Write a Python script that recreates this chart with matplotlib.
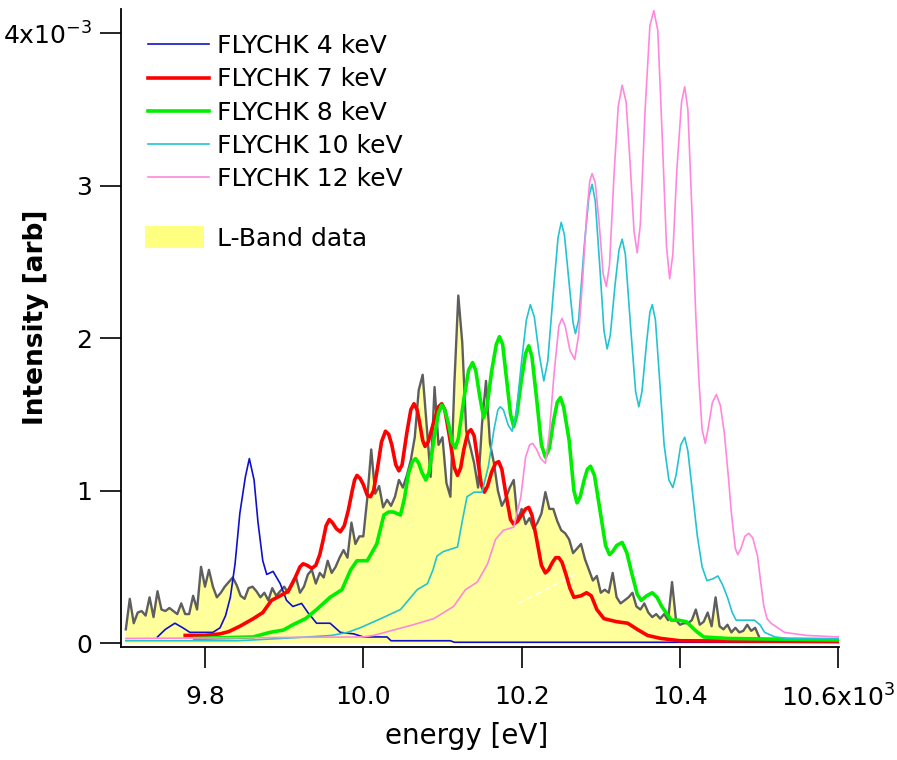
import matplotlib
matplotlib.use('Agg')
import matplotlib.pyplot as plt
from matplotlib.ticker import FixedLocator
from matplotlib.patches import Patch
from matplotlib.lines import Line2D
import numpy as np

# ---------------- data (energy in keV, intensity in 1e-3 arb) ----------------
lband_E0, lband_dE = 9.700, 0.005
lband_I = [
    0.09, 0.29, 0.13, 0.20, 0.21, 0.18, 0.30, 0.17, 0.34, 0.22,   # 9.700-9.745
    0.21, 0.23, 0.21, 0.19, 0.26, 0.19, 0.19, 0.31, 0.22, 0.50,   # 9.750-9.795
    0.37, 0.48, 0.37, 0.30, 0.33, 0.37, 0.40, 0.43, 0.38, 0.31,   # 9.800-9.845
    0.29, 0.36, 0.37, 0.34, 0.30, 0.33, 0.28, 0.36, 0.31, 0.34,   # 9.850-9.895
    0.37, 0.33, 0.38, 0.43, 0.33, 0.37, 0.45, 0.48, 0.39, 0.46,   # 9.900-9.945
    0.43, 0.54, 0.46, 0.50, 0.56, 0.61, 0.56, 0.79, 0.65, 0.70,   # 9.950-9.995
    0.70, 0.95, 1.27, 0.98, 1.03, 0.89, 0.94, 0.90, 0.96, 1.07,   # 10.000-10.045
    1.02, 1.10, 1.20, 1.35, 1.66, 1.76, 1.43, 1.09, 1.68, 1.30,   # 10.050-10.095
    1.35, 1.05, 0.96, 1.70, 2.28, 1.97, 1.39, 1.29, 1.18, 1.02,   # 10.100-10.145
    1.44, 1.72, 1.31, 1.18, 1.00, 0.90, 0.95, 1.02, 1.07, 0.80,   # 10.150-10.195
    0.88, 0.78, 0.82, 0.75, 0.79, 0.85, 0.99, 0.88, 0.88, 0.80,   # 10.200-10.245
    0.74, 0.72, 0.68, 0.59, 0.62, 0.65, 0.55, 0.48, 0.41, 0.44,   # 10.250-10.295
    0.33, 0.35, 0.33, 0.46, 0.30, 0.26, 0.28, 0.30, 0.33, 0.24,   # 10.300-10.345
    0.22, 0.26, 0.20, 0.17, 0.19, 0.16, 0.19, 0.15, 0.40, 0.15,   # 10.350-10.395
    0.12, 0.13, 0.13, 0.15, 0.22, 0.12, 0.14, 0.20, 0.11, 0.30,   # 10.400-10.445
    0.11, 0.09, 0.12, 0.07, 0.10, 0.07, 0.08, 0.12, 0.08, 0.10,   # 10.450-10.495
    0.04,                                                         # 10.500
]

k4_E = [9.740, 9.750, 9.762, 9.772, 9.781, 9.810, 9.819, 9.826, 9.832, 9.838,
        9.844, 9.851, 9.856, 9.862, 9.867, 9.873, 9.878, 9.886, 9.895, 9.903,
        9.911, 9.922, 9.930, 9.941, 9.958, 9.971, 9.988, 10.000, 10.030, 10.035,
        10.110, 10.115, 10.600]
k4_I = [0.04, 0.09, 0.13, 0.10, 0.07, 0.07, 0.10, 0.18, 0.30, 0.52,
        0.85, 1.09, 1.21, 1.07, 0.79, 0.54, 0.45, 0.47, 0.39, 0.28,
        0.24, 0.26, 0.20, 0.13, 0.13, 0.07, 0.06, 0.04, 0.04, 0.015,
        0.015, 0.005, 0.005]

k7_E = [9.775, 9.800, 9.819, 9.830, 9.844, 9.861, 9.873, 9.884, 9.895, 9.905,
        9.914, 9.920, 9.924, 9.929, 9.935, 9.940, 9.945, 9.949, 9.953, 9.957,
        9.961, 9.966, 9.971, 9.976, 9.981, 9.986, 9.989, 9.992, 9.996, 10.000,
        10.005, 10.009, 10.013, 10.018, 10.023, 10.028, 10.032, 10.036, 10.041, 10.045,
        10.049, 10.055, 10.060, 10.064, 10.068, 10.071, 10.075, 10.078, 10.082, 10.089,
        10.095, 10.099, 10.103, 10.109, 10.115, 10.119, 10.123, 10.127, 10.132, 10.136,
        10.140, 10.144, 10.149, 10.153, 10.157, 10.162, 10.167, 10.171, 10.175, 10.180,
        10.186, 10.190, 10.195, 10.200, 10.205, 10.209, 10.213, 10.219, 10.225, 10.230,
        10.234, 10.239, 10.243, 10.247, 10.251, 10.256, 10.261, 10.266, 10.275, 10.282,
        10.288, 10.295, 10.304, 10.320, 10.334, 10.346, 10.359, 10.376, 10.400, 10.600]
k7_I = [0.05, 0.05, 0.06, 0.075, 0.11, 0.16, 0.20, 0.28, 0.31, 0.34,
        0.43, 0.50, 0.52, 0.51, 0.49, 0.51, 0.58, 0.67, 0.77, 0.81,
        0.79, 0.75, 0.73, 0.77, 0.87, 1.00, 1.07, 1.10, 1.08, 1.04,
        0.97, 0.96, 1.00, 1.15, 1.32, 1.39, 1.37, 1.30, 1.17, 1.13,
        1.17, 1.38, 1.53, 1.57, 1.53, 1.45, 1.33, 1.29, 1.32, 1.45,
        1.55, 1.57, 1.53, 1.35, 1.15, 1.10, 1.15, 1.27, 1.38, 1.40,
        1.36, 1.22, 1.04, 0.99, 1.03, 1.12, 1.18, 1.19, 1.14, 0.98,
        0.81, 0.78, 0.80, 0.84, 0.88, 0.89, 0.84, 0.68, 0.51, 0.46,
        0.48, 0.53, 0.56, 0.56, 0.53, 0.45, 0.36, 0.30, 0.31, 0.33,
        0.31, 0.22, 0.16, 0.14, 0.13, 0.09, 0.05, 0.03, 0.015, 0.01]

k8_E = [9.787, 9.861, 9.882, 9.899, 9.911, 9.927, 9.941, 9.958, 9.973, 9.984,
        9.992, 10.005, 10.017, 10.026, 10.032, 10.038, 10.047, 10.052, 10.057, 10.062,
        10.066, 10.070, 10.074, 10.079, 10.083, 10.089, 10.095, 10.099, 10.103, 10.108,
        10.112, 10.116, 10.120, 10.127, 10.133, 10.138, 10.142, 10.147, 10.152, 10.156,
        10.162, 10.168, 10.172, 10.176, 10.181, 10.186, 10.190, 10.194, 10.199, 10.205,
        10.209, 10.213, 10.219, 10.225, 10.230, 10.235, 10.240, 10.245, 10.249, 10.253,
        10.260, 10.266, 10.270, 10.274, 10.279, 10.283, 10.287, 10.292, 10.299, 10.306,
        10.311, 10.315, 10.320, 10.327, 10.333, 10.339, 10.346, 10.351, 10.358, 10.365,
        10.371, 10.377, 10.389, 10.398, 10.408, 10.420, 10.430, 10.460, 10.600]
k8_I = [0.03, 0.04, 0.07, 0.085, 0.12, 0.16, 0.22, 0.30, 0.35, 0.48,
        0.54, 0.54, 0.65, 0.84, 0.86, 0.86, 0.84, 0.95, 1.11, 1.19,
        1.21, 1.18, 1.12, 1.07, 1.12, 1.33, 1.51, 1.56, 1.53, 1.43,
        1.32, 1.28, 1.34, 1.60, 1.79, 1.84, 1.79, 1.62, 1.48, 1.54,
        1.78, 1.96, 2.01, 1.96, 1.73, 1.50, 1.42, 1.50, 1.70, 1.90,
        1.95, 1.88, 1.60, 1.30, 1.22, 1.28, 1.45, 1.58, 1.61, 1.55,
        1.33, 1.00, 0.92, 0.96, 1.07, 1.14, 1.16, 1.10, 0.87, 0.64,
        0.58, 0.60, 0.64, 0.66, 0.59, 0.46, 0.32, 0.28, 0.31, 0.33,
        0.30, 0.24, 0.15, 0.15, 0.14, 0.08, 0.04, 0.03, 0.02]

k10_E = [9.700, 9.840, 9.860, 9.930, 9.960, 9.980, 9.996, 10.022, 10.047, 10.060,
         10.068, 10.081, 10.088, 10.093, 10.101, 10.119, 10.125, 10.131, 10.140, 10.150,
         10.158, 10.165, 10.170, 10.173, 10.177, 10.183, 10.188, 10.193, 10.200, 10.206,
         10.211, 10.216, 10.222, 10.228, 10.233, 10.240, 10.246, 10.250, 10.254, 10.260,
         10.265, 10.268, 10.272, 10.279, 10.285, 10.289, 10.293, 10.299, 10.304, 10.308,
         10.312, 10.318, 10.323, 10.327, 10.331, 10.338, 10.344, 10.348, 10.352, 10.358,
         10.362, 10.365, 10.369, 10.374, 10.380, 10.386, 10.391, 10.395, 10.401, 10.406,
         10.410, 10.416, 10.422, 10.428, 10.434, 10.441, 10.448, 10.454, 10.460, 10.466,
         10.471, 10.494, 10.501, 10.507, 10.520, 10.536, 10.600]
k10_I = [0.015, 0.015, 0.02, 0.04, 0.05, 0.07, 0.10, 0.16, 0.22, 0.30,
         0.35, 0.39, 0.48, 0.57, 0.60, 0.63, 0.80, 0.96, 0.99, 0.99,
         1.16, 1.40, 1.53, 1.55, 1.53, 1.43, 1.39, 1.50, 1.85, 2.12,
         2.22, 2.14, 1.90, 1.72, 1.85, 2.30, 2.66, 2.76, 2.68, 2.36,
         2.10, 2.03, 2.12, 2.60, 2.93, 3.01, 2.90, 2.45, 2.05, 1.93,
         2.02, 2.35, 2.58, 2.65, 2.55, 2.05, 1.65, 1.55, 1.65, 1.98,
         2.17, 2.22, 2.12, 1.75, 1.30, 1.07, 1.02, 1.10, 1.30, 1.35,
         1.26, 0.98, 0.70, 0.50, 0.41, 0.42, 0.44, 0.38, 0.30, 0.20,
         0.15, 0.15, 0.12, 0.07, 0.04, 0.03, 0.03]

k12_E = [9.700, 10.000, 10.013, 10.038, 10.063, 10.089, 10.114, 10.129, 10.144, 10.157,
         10.167, 10.177, 10.190, 10.199, 10.205, 10.210, 10.214, 10.219, 10.224, 10.230,
         10.235, 10.241, 10.247, 10.251, 10.255, 10.261, 10.267, 10.272, 10.277, 10.282,
         10.286, 10.289, 10.293, 10.298, 10.303, 10.307, 10.311, 10.317, 10.322, 10.327,
         10.332, 10.337, 10.342, 10.346, 10.350, 10.356, 10.362, 10.367, 10.372, 10.377,
         10.383, 10.387, 10.391, 10.396, 10.402, 10.406, 10.410, 10.415, 10.420, 10.424,
         10.428, 10.432, 10.436, 10.441, 10.446, 10.451, 10.456, 10.461, 10.465, 10.470,
         10.473, 10.477, 10.482, 10.487, 10.492, 10.498, 10.502, 10.506, 10.510, 10.515,
         10.532, 10.560, 10.600]
k12_I = [0.03, 0.04, 0.05, 0.085, 0.12, 0.16, 0.24, 0.35, 0.40, 0.52,
         0.68, 0.74, 0.76, 0.96, 1.22, 1.30, 1.31, 1.27, 1.21, 1.18,
         1.38, 1.77, 2.08, 2.13, 2.08, 1.92, 1.86, 2.02, 2.38, 2.80,
         3.03, 3.08, 3.02, 2.75, 2.42, 2.34, 2.48, 3.10, 3.52, 3.66,
         3.55, 3.15, 2.70, 2.56, 2.75, 3.50, 4.05, 4.15, 4.02, 3.40,
         2.60, 2.39, 2.55, 3.10, 3.55, 3.65, 3.50, 2.85, 2.15, 1.72,
         1.40, 1.31, 1.42, 1.58, 1.63, 1.56, 1.38, 1.10, 0.85, 0.62,
         0.58, 0.62, 0.70, 0.72, 0.69, 0.57, 0.40, 0.24, 0.16, 0.13,
         0.07, 0.05, 0.04]

fit_E = [10.196, 10.268]
fit_I = [0.26, 0.45]

x_ticks = [9.8, 10.0, 10.2, 10.4, 10.6]
x_ticklabels = ['9.8', '10.0', '10.2', '10.4', '10.6x10$^{3}$']
y_ticks = [0, 1, 2, 3, 4]
y_ticklabels = ['0', '1', '2', '3', '4x10$^{-3}$']

series = [
    ('FLYCHK 4 keV', k4_E, k4_I, '#1010CC', 1.2),
    ('FLYCHK 7 keV', k7_E, k7_I, '#FF0000', 2.6),
    ('FLYCHK 8 keV', k8_E, k8_I, '#00EE00', 2.6),
    ('FLYCHK 10 keV', k10_E, k10_I, '#22C4D0', 1.2),
    ('FLYCHK 12 keV', k12_E, k12_I, '#FF88DD', 1.2),
]

# ---------------- figure ----------------
plt.rcParams['font.family'] = ['DejaVu Sans']
plt.rcParams['mathtext.fontset'] = 'dejavusans'

fig = plt.figure(figsize=(8.97, 7.60), dpi=100)
ax = fig.add_axes([121 / 897, 113 / 760, 718 / 897, 638 / 760])

lband_x = lband_E0 + lband_dE * np.arange(len(lband_I))
ax.fill_between(lband_x, 0, lband_I, facecolor='#FFFF9C', edgecolor='none',
                linewidth=0, zorder=1)
ax.plot(lband_x, lband_I, color='#5E5E5E', lw=1.7, zorder=2)
ax.plot(fit_E, fit_I, color='white', lw=1.0, ls=(0, (4, 3)), zorder=2.5)

handles = []
for i, (lab, xe, yi, col, lw) in enumerate(series):
    ax.plot(xe, yi, color=col, lw=lw, zorder=3 + i)
    handles.append(Line2D([], [], color=col, lw=lw, label=lab))

ax.set_xlim(9.6939, 10.6009)
ax.set_ylim(-0.026, 4.16)

for s in ['top', 'right']:
    ax.spines[s].set_visible(False)
for s in ['left', 'bottom']:
    ax.spines[s].set_linewidth(1.3)

ax.xaxis.set_major_locator(FixedLocator(x_ticks))
ax.yaxis.set_major_locator(FixedLocator(y_ticks))
ax.set_xticklabels(x_ticklabels)
ax.set_yticklabels(y_ticklabels)
ax.tick_params(axis='both', direction='out', length=15, width=1.2,
               labelsize=18, colors='black')
ax.tick_params(axis='x', pad=12)
ax.tick_params(axis='y', pad=6)

ax.set_xlabel('energy [eV]', fontsize=20)
ax.xaxis.set_label_coords(0.482, -0.118)
ax.set_ylabel('Intensity [arb]', fontsize=19, fontweight='bold')
ax.yaxis.set_label_coords(-0.100, 0.516)

leg1 = ax.legend(handles=handles, loc='upper left',
                 bbox_to_anchor=(0.0376, 0.9605), bbox_transform=ax.transAxes,
                 frameon=False, fontsize=18, borderpad=0, borderaxespad=0,
                 handlelength=2.45, handletextpad=0.32, labelspacing=0.37)
ax.add_artist(leg1)
patch = Patch(facecolor='#FFFF80', edgecolor='none', label='L-Band data')
leg2 = ax.legend(handles=[patch], loc='upper left',
                 bbox_to_anchor=(0.0334, 0.6600), bbox_transform=ax.transAxes,
                 frameon=False, fontsize=18, borderpad=0, borderaxespad=0,
                 handlelength=2.35, handleheight=1.0, handletextpad=0.52)

fig.savefig('out.png', dpi=100)
